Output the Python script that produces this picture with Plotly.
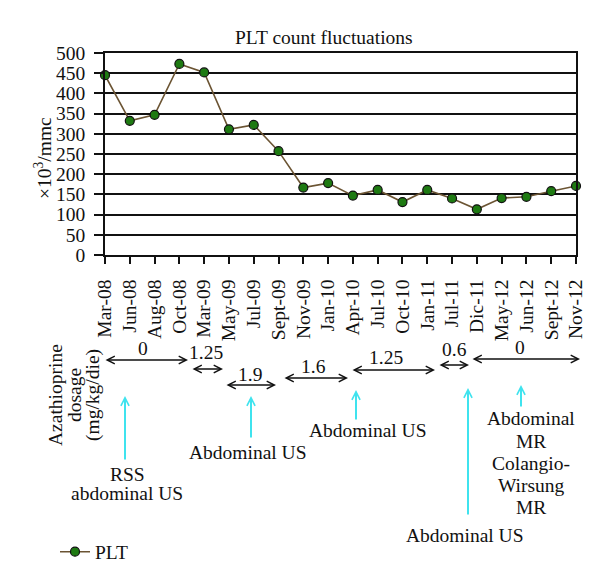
import plotly.graph_objects as go

# ---- data ----
months = ["Mar-08", "Jun-08", "Aug-08", "Oct-08", "Mar-09", "May-09", "Jul-09", "Sept-09",
          "Nov-09", "Jan-10", "Apr-10", "Jul-10", "Oct-10", "Jan-11", "Jul-11", "Dic-11",
          "May-12", "Jun-12", "Sept-12", "Nov-12"]
plt_values = [445, 332, 347, 473, 452, 311, 322, 257, 167, 178, 147, 161, 131, 161,
              140, 113, 141, 144, 158, 171]
dosage_values = ["0", "1.25", "1.9", "1.6", "1.25", "0.6", "0"]
exam_labels = [["RSS", "abdominal US"], ["Abdominal US"], ["Abdominal US"], ["Abdominal US"],
               ["Abdominal", "MR", "Colangio-", "Wirsung", "MR"]]
y_ticks = list(range(0, 501, 50))

# ---- layout geometry (pixels) ----
L, T, W, H = 97, 45, 471, 202
FONT = "Liberation Serif"
FS = 19.5


def px(xp):
    return (xp - L) / W


def py(yp):
    return (T + H - yp) / H


# dosage arrows: (x0, x1, y_line, label_x, label_y)
dose_geom = [(96, 180, 352, 135, 340), (183, 215, 361, 198, 344), (217, 268, 377, 242, 366),
             (275, 340, 370, 305, 358), (343, 427, 362, 378, 349), (430, 461, 357, 446, 341),
             (463, 572, 351, 512, 339)]
# exam arrows: (x, y_top, y_bottom, text_x, [text_y per line])
exam_geom = [(117, 388, 453, 119, [466, 485]), (243, 388, 431, 240, [444]),
             (348, 382, 413, 360, [422]), (460, 380, 508, 457, [527]),
             (513, 377, 400, 523, [410, 433, 455, 478, 500])]

fig = go.Figure()
fig.add_trace(go.Scatter(
    x=months, y=plt_values, mode="lines+markers", name="PLT",
    line=dict(color="#6b5433", width=1.6),
    marker=dict(size=9, color="#1e7a12", line=dict(color="#111111", width=1.2)),
    cliponaxis=False,
))

ann = []
for lab, (x0, x1, yl, lx, ly) in zip(dosage_values, dose_geom):
    ann.append(dict(xref="paper", yref="paper", x=px(x1), y=py(yl), ax=-(x1 - x0), ay=0,
                    axref="pixel", ayref="pixel", text="", showarrow=True,
                    arrowside="end+start", arrowhead=5, startarrowhead=5,
                    arrowsize=1.0, startarrowsize=1.0, arrowwidth=1.5, arrowcolor="#111111",
                    standoff=0, startstandoff=0))
    ann.append(dict(xref="paper", yref="paper", x=px(lx), y=py(ly), text=lab, showarrow=False,
                    xanchor="center", yanchor="middle", font=dict(family=FONT, size=FS, color="#111111")))

for lines, (xa, yt, yb, tx, tys) in zip(exam_labels, exam_geom):
    ann.append(dict(xref="paper", yref="paper", x=px(xa), y=py(yt), ax=0, ay=yb - yt,
                    axref="pixel", ayref="pixel", text="", showarrow=True,
                    arrowhead=5, arrowsize=0.8, arrowwidth=2, arrowcolor="#3fe3ee", standoff=0))
    for line, ty in zip(lines, tys):
        ann.append(dict(xref="paper", yref="paper", x=px(tx), y=py(ty), text=line, showarrow=False,
                        xanchor="center", yanchor="middle", font=dict(family=FONT, size=FS, color="#111111")))

for line, xx in zip(["Azathioprine", "dosage", "(mg/kg/die)"], [47, 66, 85]):
    ann.append(dict(xref="paper", yref="paper", x=px(xx), y=py(387), text=line, showarrow=False,
                    textangle=-90, xanchor="center", yanchor="middle",
                    font=dict(family=FONT, size=FS, color="#111111")))

ann.append(dict(xref="paper", yref="paper", x=px(35), y=py(150), text="×10<sup>3</sup>/mmc",
                showarrow=False, textangle=-90, xanchor="center", yanchor="middle",
                font=dict(family=FONT, size=FS, color="#111111")))
ann.append(dict(xref="paper", yref="paper", x=px(316), y=py(30), text="PLT count fluctuations",
                showarrow=False, xanchor="center", yanchor="middle",
                font=dict(family=FONT, size=FS, color="#111111")))

fig.update_layout(
    width=600, height=578,
    margin=dict(l=L, r=600 - L - W, t=T, b=578 - T - H, pad=0),
    paper_bgcolor="white", plot_bgcolor="white",
    font=dict(family=FONT, size=FS, color="#111111"),
    showlegend=True,
    legend=dict(x=px(47), y=py(544), xanchor="left", yanchor="middle",
                font=dict(family=FONT, size=FS, color="#111111"), bgcolor="rgba(0,0,0,0)"),
    annotations=ann,
    xaxis=dict(type="category", range=[0, len(months) - 1], showgrid=False,
               showline=True, linecolor="#111111", linewidth=1.5, mirror=True,
               ticks="outside", ticklen=7, tickwidth=1.5, tickcolor="#111111",
               tickangle=-90, ticklabelstandoff=8, tickfont=dict(family=FONT, size=FS)),
    yaxis=dict(range=[0, 500], tickvals=y_ticks, showgrid=True, gridcolor="#111111", gridwidth=1.5,
               showline=True, linecolor="#111111", linewidth=1.5, mirror=True, zeroline=False,
               ticks="outside", ticklen=9, tickwidth=1.5, tickcolor="#111111",
               ticklabelstandoff=5, tickfont=dict(family=FONT, size=FS)),
)

fig.write_html("out.html")
